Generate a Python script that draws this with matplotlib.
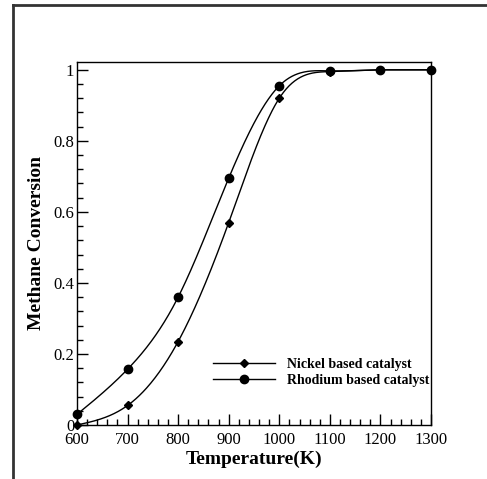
"""Methane conversion vs temperature for nickel and rhodium catalysts."""

import matplotlib.pyplot as plt
import numpy as np
from matplotlib.lines import Line2D
from matplotlib.ticker import MultipleLocator

temperature = [600, 700, 800, 900, 1000, 1100, 1200, 1300]
nickel = [0.0, 0.055, 0.235, 0.57, 0.92, 0.995, 1.0, 1.0]
rhodium = [0.03, 0.157, 0.36, 0.695, 0.955, 0.997, 1.0, 1.0]
series_labels = ["Nickel based catalyst", "Rhodium based catalyst"]

W, H = 487, 479


def natural_spline(x, y, xs):
    # smooth curve through the points, like the plotting package's spline fit
    x = np.asarray(x, float)
    y = np.asarray(y, float)
    n = len(x)
    h = np.diff(x)
    A = np.zeros((n, n))
    b = np.zeros(n)
    A[0, 0] = A[-1, -1] = 1.0
    for i in range(1, n - 1):
        A[i, i - 1] = h[i - 1]
        A[i, i] = 2 * (h[i - 1] + h[i])
        A[i, i + 1] = h[i]
        b[i] = 3 * ((y[i + 1] - y[i]) / h[i] - (y[i] - y[i - 1]) / h[i - 1])
    c = np.linalg.solve(A, b)
    out = np.empty(len(xs))
    for j, xv in enumerate(xs):
        k = min(max(np.searchsorted(x, xv, side="right") - 1, 0), n - 2)
        bk = (y[k + 1] - y[k]) / h[k] - h[k] * (2 * c[k] + c[k + 1]) / 3
        dk = (c[k + 1] - c[k]) / (3 * h[k])
        t = xv - x[k]
        out[j] = y[k] + bk * t + c[k] * t**2 + dk * t**3
    return np.minimum(out, 1.0)


plt.rcParams["font.family"] = "Liberation Serif"

fig = plt.figure(figsize=(W / 100, H / 100), dpi=100)
ax = fig.add_axes([77 / W, 1 - 425 / H, (431 - 77) / W, (425 - 62) / H])

xs = np.linspace(600, 1300, 500)
ax.plot(xs, natural_spline(temperature, nickel, xs), color="black", lw=1.0)
ax.plot(xs, natural_spline(temperature, rhodium, xs), color="black", lw=1.0)
ax.plot(temperature, nickel, "D", color="black", ms=3.6, clip_on=False)
ax.plot(temperature, rhodium, "o", color="black", ms=6, clip_on=False)

ax.set_xlim(600, 1300)
ax.set_ylim(0, 1.022)
ax.xaxis.set_major_locator(MultipleLocator(100))
ax.xaxis.set_minor_locator(MultipleLocator(20))
ax.yaxis.set_minor_locator(MultipleLocator(0.04))
ax.set_yticks([0, 0.2, 0.4, 0.6, 0.8, 1.0], ["0", "0.2", "0.4", "0.6", "0.8", "1"])
ax.tick_params(which="both", direction="in", top=False, right=False, labelsize=12, width=1.0)
ax.tick_params(which="major", length=8)
ax.tick_params(which="minor", length=4)
ax.tick_params(axis="x", pad=5)
ax.tick_params(axis="y", pad=2)
for spine in ax.spines.values():
    spine.set_linewidth(1.0)

ax.set_xlabel("Temperature(K)", fontsize=14, fontweight="bold", labelpad=2)
ax.set_ylabel("Methane Conversion", fontsize=14, fontweight="bold", labelpad=6)

handles = [
    Line2D([], [], color="black", lw=1.0, marker="D", ms=3.6),
    Line2D([], [], color="black", lw=1.0, marker="o", ms=6),
]
ax.legend(handles, series_labels, loc="lower left", bbox_to_anchor=(0.35, 0.07),
          frameon=False, handlelength=4.4, labelspacing=0.25, handletextpad=0.9,
          prop={"weight": "bold", "size": 10})

# outer frame, only top and left edges visible
fig.add_artist(Line2D([13 / W, 1], [1 - 5 / H, 1 - 5 / H], color="#333333", lw=2.0))
fig.add_artist(Line2D([13 / W, 13 / W], [0, 1 - 5 / H], color="#333333", lw=2.0))

fig.savefig("out.png", dpi=100)
